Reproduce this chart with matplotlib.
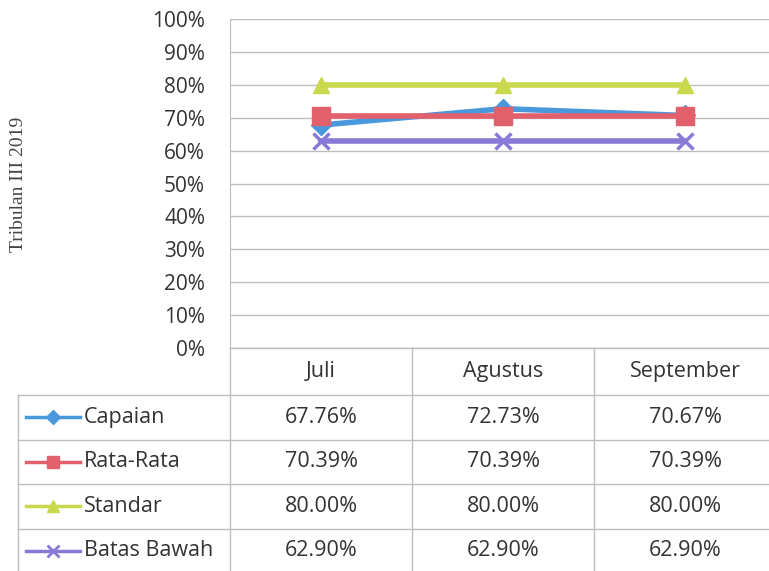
import matplotlib
matplotlib.use("Agg")
import matplotlib.pyplot as plt
from matplotlib.lines import Line2D

# data
months = ["Juli", "Agustus", "September"]
series_names = ["Capaian", "Rata-Rata", "Standar", "Batas Bawah"]
capaian = [67.76, 72.73, 70.67]
rata_rata = [70.39, 70.39, 70.39]
standar = [80.00, 80.00, 80.00]
batas_bawah = [62.90, 62.90, 62.90]
y_ticks = [0, 10, 20, 30, 40, 50, 60, 70, 80, 90, 100]

all_values = [capaian, rata_rata, standar, batas_bawah]
colors = ["#4a98dc", "#e2606c", "#c9d84c", "#8a78d6"]
markers = ["D", "s", "^", "x"]
msizes = [10, 13, 12, 12]

W, H = 769, 571
fig = plt.figure(figsize=(W / 100, H / 100), dpi=100)
font = "Open Sans"
fsize = 15.5
grey_txt = "#333333"
line_col = "#bdbdbd"

# plot area in pixel terms
x0, x1 = 230, 776
y_top, y_bot = 19, 348
ax = fig.add_axes([x0 / W, 1 - y_bot / H, (x1 - x0) / W, (y_bot - y_top) / H])
xs = [i + 0.5 for i in range(len(months))]
for vals, c, m, ms in zip(all_values, colors, markers, msizes):
    ax.plot(xs, vals, color=c, linewidth=4, marker=m, markersize=ms,
            markeredgewidth=2.5 if m == "x" else 1, markeredgecolor=c,
            markerfacecolor=c, zorder=3, clip_on=False)
ax.set_xlim(0, len(months))
ax.set_ylim(0, 100)
ax.set_yticks(y_ticks)
ax.set_yticklabels([f"{t}%" for t in y_ticks], fontsize=15, family=font, color=grey_txt)
ax.set_xticks([])
ax.tick_params(axis="y", length=0, pad=18)
ax.grid(axis="y", color=line_col, linewidth=1)
for s in ["top", "right", "bottom"]:
    ax.spines[s].set_visible(False)
ax.spines["left"].set_color(line_col)

fig.text(19 / W, 1 - 184 / H, "Tribulan III 2019", rotation=90, ha="center", va="center",
         family="Liberation Serif", fontsize=14, color="#444444")

# data table below the plot
tb = fig.add_axes([0, 0, 1, 1])
tb.set_xlim(0, W)
tb.set_ylim(H, 0)
tb.axis("off")
col_w = (x1 - x0) / len(months)
hdr_bot = 395
row_h = 44.5
left = 18
n_rows = len(series_names)

for i in range(len(months) + 1):
    xv = x0 + i * col_w
    tb.add_line(Line2D([xv, xv], [y_bot, hdr_bot + n_rows * row_h], color=line_col, lw=1))
tb.add_line(Line2D([left, left], [hdr_bot, hdr_bot + n_rows * row_h], color=line_col, lw=1))
tb.add_line(Line2D([x0, x1], [y_bot, y_bot], color=line_col, lw=1))
for r in range(n_rows + 1):
    yv = hdr_bot + r * row_h
    tb.add_line(Line2D([left, x1], [yv, yv], color=line_col, lw=1))

for i, mth in enumerate(months):
    tb.text(x0 + (i + 0.5) * col_w, (y_bot + hdr_bot) / 2, mth, ha="center", va="center",
            fontsize=fsize, family=font, color=grey_txt)

for r, (name, vals, c, m) in enumerate(zip(series_names, all_values, colors, markers)):
    yc = hdr_bot + (r + 0.5) * row_h
    tb.add_line(Line2D([26, 80], [yc, yc], color=c, lw=2.5))
    tb.plot([53], [yc], marker=m, color=c, markersize=9 if m != "D" else 7,
            markeredgewidth=2 if m == "x" else 1)
    tb.text(84, yc, name, ha="left", va="center", fontsize=fsize, family=font, color=grey_txt)
    for i, v in enumerate(vals):
        tb.text(x0 + (i + 0.5) * col_w, yc, f"{v:.2f}%", ha="center", va="center",
                fontsize=fsize, family=font, color=grey_txt)

fig.savefig("out.png", dpi=100)
